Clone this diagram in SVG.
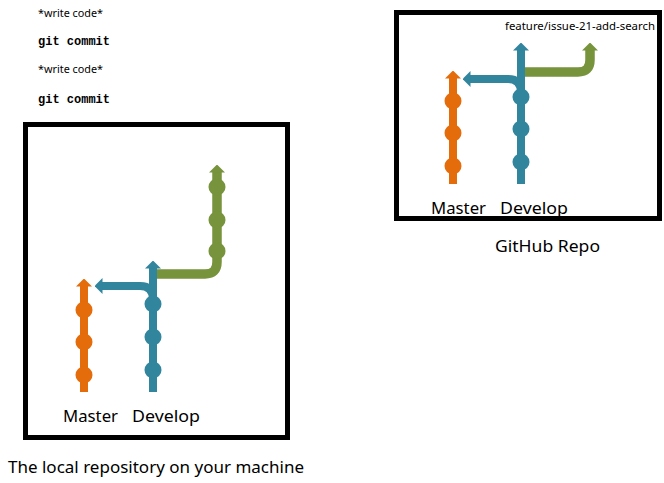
<svg xmlns="http://www.w3.org/2000/svg" width="664" height="483" viewBox="0 0 664 483">
<style>
  .box{fill:none;stroke:#000;stroke-width:5}
  .br{fill:none;stroke-width:8;stroke-linecap:butt}
  .or{stroke:#E46C0A}.bl{stroke:#31859C}.gr{stroke:#77933C;stroke-width:9.5}
  .cor{fill:#E46C0A}.cbl{fill:#31859C}.cgr{fill:#77933C}
  .lbl{font-family:"Noto Sans",Lato,sans-serif;font-size:17px;fill:#000}
  .cap{font-family:"Noto Sans",Lato,sans-serif;font-size:16px;fill:#000}
  .note{font-family:"Noto Sans",Lato,sans-serif;font-size:11px;fill:#000}
  .code{font-family:"Liberation Mono",monospace;font-size:12px;font-weight:bold;fill:#000}
</style>
<defs>
  <marker id="aOr" viewBox="0 0 8 16" refX="0.5" refY="8" markerWidth="8" markerHeight="16" markerUnits="userSpaceOnUse" orient="auto"><path d="M0,0 L8,8 L0,16 z" fill="#E46C0A"/></marker>
  <marker id="aBl" viewBox="0 0 8 16" refX="0.5" refY="8" markerWidth="8" markerHeight="16" markerUnits="userSpaceOnUse" orient="auto"><path d="M0,0 L8,8 L0,16 z" fill="#31859C"/></marker>
  <marker id="aGr" viewBox="0 0 8 16" refX="0.5" refY="8" markerWidth="8" markerHeight="16" markerUnits="userSpaceOnUse" orient="auto"><path d="M0,0 L8,8 L0,16 z" fill="#77933C"/></marker>
</defs>

<g id="notes">
  <text class="note" x="38" y="17" textLength="65" lengthAdjust="spacingAndGlyphs">*write code*</text>
  <text class="code" x="38" y="45">git commit</text>
  <text class="note" x="38" y="73" textLength="65" lengthAdjust="spacingAndGlyphs">*write code*</text>
  <text class="code" x="38" y="103">git commit</text>
</g>

<g id="local-repo">
  <rect class="box" x="25.5" y="124.5" width="262" height="313"/>
  <text class="cap" x="8" y="473" textLength="296" lengthAdjust="spacingAndGlyphs">The local repository on your machine</text>
</g>

<g id="github-repo">
  <rect class="box" x="396.5" y="12.5" width="263" height="206"/>
  <text class="cap" x="495" y="252" textLength="105" lengthAdjust="spacingAndGlyphs">GitHub Repo</text>
</g>

<g id="connectors">
  <!-- local -->
  <path class="br gr" d="M153,274 H205 Q217,274 217,262 V172" marker-end="url(#aGr)"/>
  <path class="br bl" d="M153,299 Q153,286 140,286 H102" marker-end="url(#aBl)"/>
  <path class="br or" d="M84,392 V286" marker-end="url(#aOr)"/>
  <path class="br bl" d="M153,392 V268" marker-end="url(#aBl)"/>
  <!-- github -->
  <path class="br gr" d="M521,72 H578 Q590,72 590,60 V50" marker-end="url(#aGr)"/>
  <path class="br bl" d="M521,92 Q521,79 508,79 H470" marker-end="url(#aBl)"/>
  <path class="br or" d="M453,184 V78" marker-end="url(#aOr)"/>
  <path class="br bl" d="M521,184 V50" marker-end="url(#aBl)"/>
</g>

<g id="local-master">
  <circle class="cor" cx="84" cy="310" r="8.5"/>
  <circle class="cor" cx="84" cy="342" r="8.5"/>
  <circle class="cor" cx="84" cy="375" r="8.5"/>
  <text class="lbl" x="63" y="422" textLength="55" lengthAdjust="spacingAndGlyphs">Master</text>
</g>
<g id="local-develop">
  <circle class="cbl" cx="153" cy="304" r="8.5"/>
  <circle class="cbl" cx="153" cy="337" r="8.5"/>
  <circle class="cbl" cx="153" cy="370" r="8.5"/>
  <text class="lbl" x="132" y="422" textLength="68" lengthAdjust="spacingAndGlyphs">Develop</text>
</g>
<g id="local-feature">
  <circle class="cgr" cx="217" cy="187" r="8.5"/>
  <circle class="cgr" cx="217" cy="220" r="8.5"/>
  <circle class="cgr" cx="217" cy="251" r="8.5"/>
</g>

<g id="gh-master">
  <circle class="cor" cx="453" cy="101" r="8.5"/>
  <circle class="cor" cx="453" cy="133" r="8.5"/>
  <circle class="cor" cx="453" cy="166" r="8.5"/>
  <text class="lbl" x="431" y="214" textLength="55" lengthAdjust="spacingAndGlyphs">Master</text>
</g>
<g id="gh-develop">
  <circle class="cbl" cx="521" cy="97" r="8.5"/>
  <circle class="cbl" cx="521" cy="129" r="8.5"/>
  <circle class="cbl" cx="521" cy="162" r="8.5"/>
  <text class="lbl" x="500" y="214" textLength="68" lengthAdjust="spacingAndGlyphs">Develop</text>
</g>
<g id="gh-feature">
  <text class="note" x="505" y="30" textLength="150" lengthAdjust="spacingAndGlyphs">feature/issue-21-add-search</text>
</g>
</svg>
